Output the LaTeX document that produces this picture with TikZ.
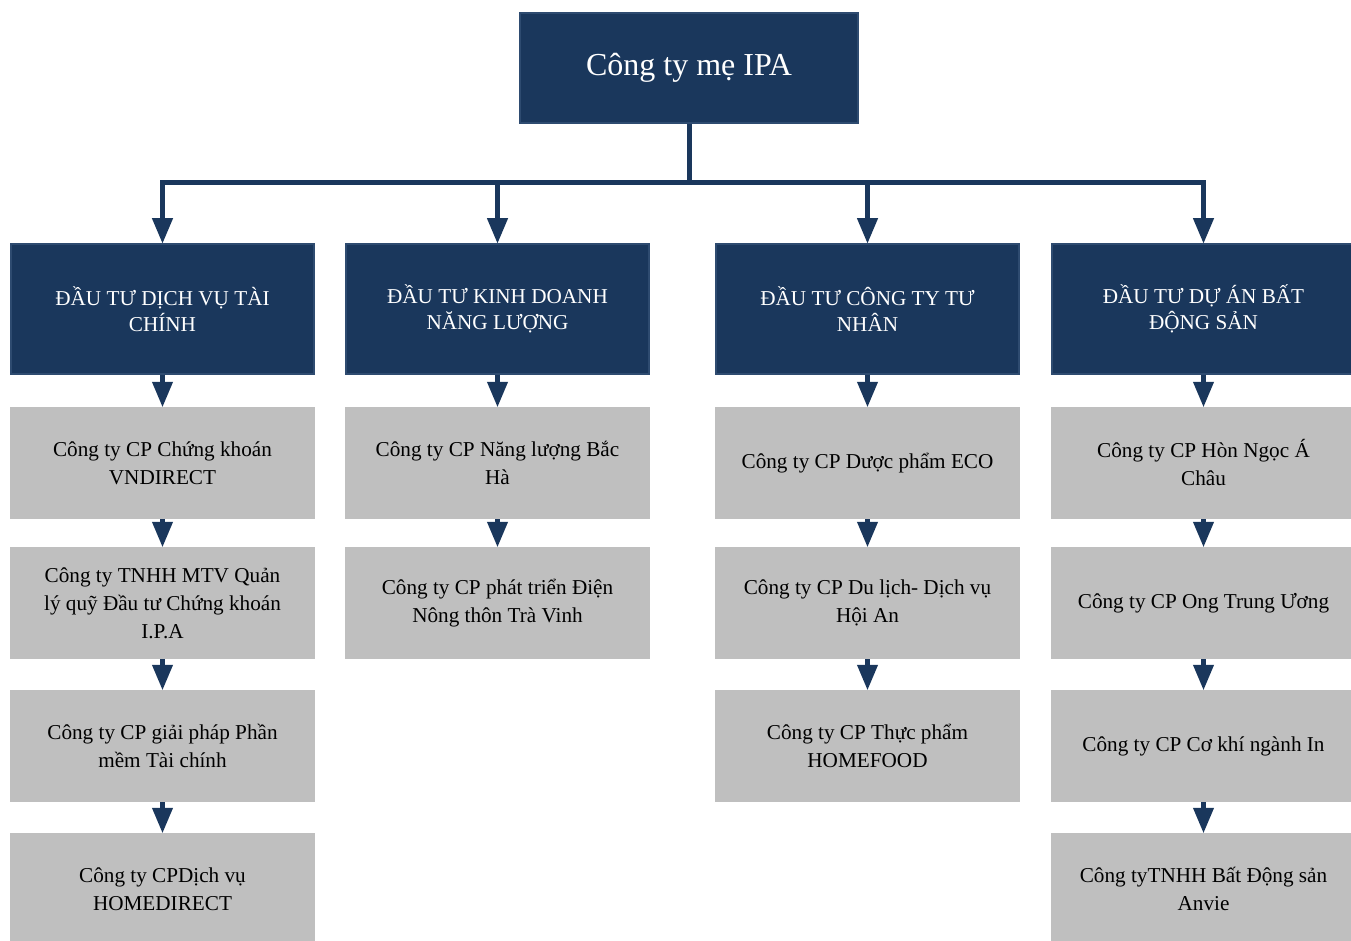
\documentclass[tikz,border=0pt]{standalone}
\usepackage{fontspec}
\setmainfont{Liberation Serif}
\usetikzlibrary{arrows}
\definecolor{navy}{HTML}{1A375C}
\definecolor{navyedge}{HTML}{2E4B70}
\definecolor{boxgray}{HTML}{BFBFBF}
\tikzset{every picture/.style={x=1pt, y=-1pt}}
\tikzset{parent/.style={draw=navyedge, line width=1.5pt, fill=navy, text=white, minimum width=338pt, minimum height=110pt, inner sep=0pt, font=\fontsize{32}{36}\selectfont}}
\tikzset{head/.style={draw=navyedge, line width=1.5pt, fill=navy, text=white, minimum width=303pt, minimum height=130pt, inner sep=0pt, align=center, font=\fontsize{21.2}{26}\selectfont}}
\tikzset{unit/.style={fill=boxgray, minimum width=305pt, minimum height=112pt, inner sep=0pt, align=center, font=\fontsize{21.2}{28}\selectfont}}
\tikzset{link/.style={draw=navy, line width=5pt, -triangle 45}}

\begin{document}
\begin{tikzpicture}
\useasboundingbox (0,0) rectangle (1351,941);
\node[parent] (ipa) at (689,68) {Công ty mẹ IPA};
\coordinate (bus) at (689,183);
\foreach \i/\x/\txt in {1/162.5/{ĐẦU TƯ DỊCH VỤ TÀI\\CHÍNH}, 2/497.5/{ĐẦU TƯ KINH DOANH\\NĂNG LƯỢNG}, 3/867.5/{ĐẦU TƯ CÔNG TY TƯ\\NHÂN}, 4/1203.5/{ĐẦU TƯ DỰ ÁN BẤT\\ĐỘNG SẢN}} {
    \node[head] (h\i) at (\x,309) {\txt};
}
% first column
\node[unit] (c1r1) at (162.5,463) {Công ty CP Chứng khoán\\VNDIRECT};
\node[unit] (c1r2) at (162.5,603) {Công ty TNHH MTV Quản\\lý quỹ Đầu tư Chứng khoán\\I.P.A};
\node[unit] (c1r3) at (162.5,746) {Công ty CP giải pháp Phần\\mềm Tài chính};
\node[unit] (c1r4) at (162.5,889) {Công ty CPDịch vụ\\HOMEDIRECT};
% second column
\node[unit] (c2r1) at (497.5,463) {Công ty CP Năng lượng Bắc\\Hà};
\node[unit] (c2r2) at (497.5,603) {Công ty CP phát triển Điện\\Nông thôn Trà Vinh};
% third column
\node[unit] (c3r1) at (867.5,463) {Công ty CP Dược phẩm ECO};
\node[unit] (c3r2) at (867.5,603) {Công ty CP Du lịch- Dịch vụ\\Hội An};
\node[unit] (c3r3) at (867.5,746) {Công ty CP Thực phẩm\\HOMEFOOD};
% fourth column
\node[unit] (c4r1) at (1203.5,463) {Công ty CP Hòn Ngọc Á\\Châu};
\node[unit] (c4r2) at (1203.5,603) {Công ty CP Ong Trung Ương};
\node[unit] (c4r3) at (1203.5,746) {Công ty CP Cơ khí ngành In};
\node[unit] (c4r4) at (1203.5,889) {Công tyTNHH Bất Động sản\\Anvie};

\draw[draw=navy, line width=5pt] (ipa.south) -- (bus);
\foreach \i in {1,...,4} {
    \draw[link] (bus) -| (h\i.north);
    \draw[link] (h\i.south) -- (c\i r1.north);
}
\draw[link] (c1r1) -- (c1r2);
\draw[link] (c1r2) -- (c1r3);
\draw[link] (c1r3) -- (c1r4);
\draw[link] (c2r1) -- (c2r2);
\draw[link] (c3r1) -- (c3r2);
\draw[link] (c3r2) -- (c3r3);
\draw[link] (c4r1) -- (c4r2);
\draw[link] (c4r2) -- (c4r3);
\draw[link] (c4r3) -- (c4r4);
\end{tikzpicture}
\end{document}
